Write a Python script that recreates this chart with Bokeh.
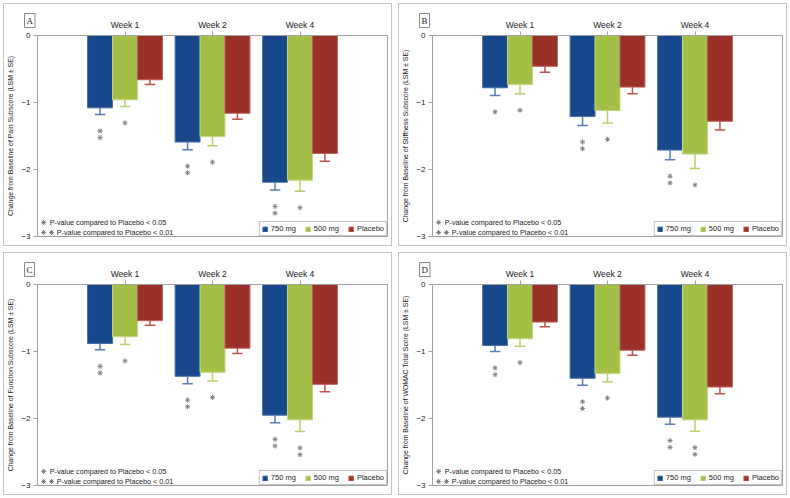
from bokeh.plotting import figure
from bokeh.models import ColumnDataSource, FactorRange, Range1d, FixedTicker, Label
from bokeh.transform import dodge
from bokeh.layouts import column, row
from bokeh.embed import file_html
from bokeh.resources import INLINE

weeks = ["Week 1", "Week 2", "Week 4"]
groups = ["750 mg", "500 mg", "Placebo"]

# Least-squares mean change from baseline and standard error, per group
pain_750 = [-1.08, -1.59, -2.19]
pain_500 = [-0.96, -1.51, -2.16]
pain_pbo = [-0.66, -1.16, -1.76]
pain_750_se = [0.10, 0.115, 0.115]
pain_500_se = [0.10, 0.135, 0.165]
pain_pbo_se = [0.07, 0.09, 0.115]

stiff_750 = [-0.78, -1.21, -1.71]
stiff_500 = [-0.73, -1.12, -1.77]
stiff_pbo = [-0.46, -0.77, -1.28]
stiff_750_se = [0.115, 0.135, 0.145]
stiff_500_se = [0.14, 0.185, 0.215]
stiff_pbo_se = [0.09, 0.10, 0.13]

func_750 = [-0.88, -1.37, -1.95]
func_500 = [-0.78, -1.31, -2.02]
func_pbo = [-0.54, -0.95, -1.49]
func_750_se = [0.095, 0.11, 0.115]
func_500_se = [0.115, 0.13, 0.175]
func_pbo_se = [0.07, 0.08, 0.11]

total_750 = [-0.91, -1.40, -1.98]
total_500 = [-0.81, -1.33, -2.02]
total_pbo = [-0.56, -0.98, -1.53]
total_750_se = [0.09, 0.105, 0.105]
total_500_se = [0.11, 0.12, 0.17]
total_pbo_se = [0.07, 0.075, 0.10]

# number of significance stars versus placebo (1: p<0.05, 2: p<0.01)
pain_750_sig = [2, 2, 2]
pain_500_sig = [1, 1, 1]
stiff_750_sig = [1, 2, 2]
stiff_500_sig = [1, 1, 1]
func_750_sig = [2, 2, 2]
func_500_sig = [1, 1, 2]
total_750_sig = [2, 2, 2]
total_500_sig = [1, 1, 2]

letters = ["A", "B", "C", "D"]
ylabels = [
    "Change from Baseline of Pain Subscore (LSM \u00b1 SE)",
    "Change from Baseline of Stiffness Subscore (LSM \u00b1 SE)",
    "Change from Baseline of Function Subscore (LSM \u00b1 SE)",
    "Change from Baseline of WOMAC Total Score (LSM \u00b1 SE)",
]

FONT = "Liberation Sans"
fills = ["#16488b", "#a4bf46", "#9a3129"]
edges = ["#4a6fa8", "#c3d684", "#bf5c55"]
whisk = ["#5b7db3", "#b9cf70", "#b8564f"]
offsets = [-0.285, 0.0, 0.285]
BAR_W = 0.285
CAP = 0.06
STAR_GAP = 0.245
STAR_STEP = 0.1
STAR_COLOR = "#7f7f7f"


def make_panel(letter, ylabel, means, ses, sigs):
    p = figure(width=395, height=249,
               x_range=FactorRange(factors=weeks, range_padding=0.5,
                                   range_padding_units="absolute"),
               y_range=Range1d(-3, 0),
               x_axis_location="above",
               output_backend="svg", toolbar_location=None,
               min_border_left=37, min_border_right=8,
               min_border_top=35, min_border_bottom=13,
               background_fill_color="white", border_fill_alpha=0)
    # thin grey frame around the whole panel
    p.styles = {"background-color": "white",
                "box-shadow": "inset 0 0 0 3px white, inset 0 0 0 4px #c4c4c4"}
    p.outline_line_color = "#a0a0a0"
    p.outline_line_width = 1
    p.grid.visible = False

    # boxed panel letter
    p.title.text = letter
    p.title.align = "left"
    p.title.offset = -13
    p.title.standoff = -22
    p.title.text_font = "Liberation Serif"
    p.title.text_font_size = "9px"
    p.title.text_font_style = "normal"
    p.title.text_color = "#222222"
    p.title.border_line_color = "#8a8a8a"
    p.title.background_fill_color = "white"
    p.title.padding = 2

    for ax in (p.xaxis[0], p.yaxis[0]):
        ax.axis_line_color = "#a0a0a0"
        ax.major_tick_line_color = "#a0a0a0"
        ax.minor_tick_line_color = None
        ax.major_tick_in = 0
        ax.major_label_text_font = FONT
        ax.major_label_text_color = "#222222"
    p.xaxis.major_tick_out = 4
    p.xaxis.major_label_text_font_size = "8.5px"
    p.xaxis.major_label_standoff = 2
    p.yaxis.major_tick_out = 4
    p.yaxis.major_label_text_font_size = "8px"
    p.yaxis.major_label_standoff = 3
    p.yaxis.ticker = FixedTicker(ticks=[0, -1, -2, -3])
    p.yaxis.axis_label = ylabel
    p.yaxis.axis_label_text_font = FONT
    p.yaxis.axis_label_text_font_size = "6.9px"
    p.yaxis.axis_label_text_font_style = "normal"
    p.yaxis.axis_label_text_color = "#222222"
    p.yaxis.axis_label_standoff = 4

    for i, g in enumerate(groups):
        m = means[i]
        s = ses[i]
        low = [a - b for a, b in zip(m, s)]
        src = ColumnDataSource(dict(week=weeks, mean=m, low=low))
        off = offsets[i]
        p.vbar(x=dodge("week", off, range=p.x_range), top="mean", bottom=0,
               width=BAR_W, source=src, fill_color=fills[i],
               line_color=edges[i], line_width=1, legend_label=g)
        p.segment(x0=dodge("week", off, range=p.x_range), y0="mean",
                  x1=dodge("week", off, range=p.x_range), y1="low",
                  source=src, line_color=whisk[i], line_width=1.5)
        p.segment(x0=dodge("week", off - CAP, range=p.x_range), y0="low",
                  x1=dodge("week", off + CAP, range=p.x_range), y1="low",
                  source=src, line_color=whisk[i], line_width=1.5)
        if i < 2:
            sw, sy = [], []
            for w, lo, n in zip(weeks, low, sigs[i]):
                for k in range(n):
                    sw.append(w)
                    sy.append(lo - STAR_GAP - STAR_STEP * k)
            ssrc = ColumnDataSource(dict(week=sw, y=sy))
            p.scatter(x=dodge("week", off, range=p.x_range), y="y",
                      source=ssrc, marker="asterisk", size=5,
                      line_color=STAR_COLOR, line_width=1)

    # footnote explaining the stars
    p.scatter(x=[-0.43, -0.43, -0.34], y=[-2.79, -2.94, -2.94],
              marker="asterisk", size=5, line_color=STAR_COLOR, line_width=1)
    for tx, ty, t in [(-0.36, -2.79, "P-value compared to Placebo < 0.05"),
                      (-0.28, -2.94, "P-value compared to Placebo < 0.01")]:
        p.add_layout(Label(x=tx, y=ty, text=t, text_font=FONT,
                           text_font_size="7.2px", text_color="#222222",
                           text_baseline="middle"))

    lg = p.legend[0]
    lg.location = "bottom_right"
    lg.orientation = "horizontal"
    lg.label_text_font = FONT
    lg.label_text_font_size = "7.5px"
    lg.label_text_color = "#222222"
    lg.glyph_width = 6
    lg.glyph_height = 6
    lg.label_height = 7
    lg.label_width = 10
    lg.label_standoff = 3
    lg.spacing = 9
    lg.padding = 2
    lg.margin = 0
    lg.border_line_color = "#8a8a8a"
    lg.background_fill_alpha = 1
    return p


pA = make_panel(letters[0], ylabels[0], [pain_750, pain_500, pain_pbo],
                [pain_750_se, pain_500_se, pain_pbo_se], [pain_750_sig, pain_500_sig])
pB = make_panel(letters[1], ylabels[1], [stiff_750, stiff_500, stiff_pbo],
                [stiff_750_se, stiff_500_se, stiff_pbo_se], [stiff_750_sig, stiff_500_sig])
pC = make_panel(letters[2], ylabels[2], [func_750, func_500, func_pbo],
                [func_750_se, func_500_se, func_pbo_se], [func_750_sig, func_500_sig])
pD = make_panel(letters[3], ylabels[3], [total_750, total_500, total_pbo],
                [total_750_se, total_500_se, total_pbo_se], [total_750_sig, total_500_sig])

layout = column(row(pA, pB), row(pC, pD))
open("out.html", "w").write(file_html(layout, INLINE))
